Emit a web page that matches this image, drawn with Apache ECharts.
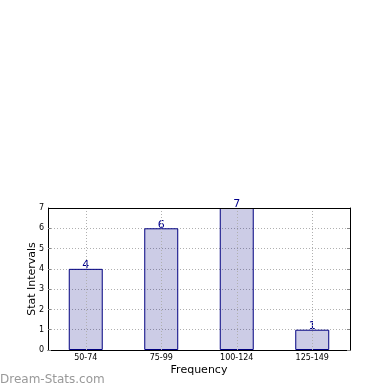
<!DOCTYPE html>
<html><head><meta charset="utf-8">
<script src="https://cdn.jsdelivr.net/npm/echarts@6/dist/echarts.min.js"></script>
<style>html,body{margin:0;padding:0;background:#fff}#c{width:390px;height:390px}</style>
</head><body><div id="c"></div>
<script>
const categories = ['50-74', '75-99', '100-124', '125-149'];
const values = [4, 6, 7, 1];
const yTicks = [0, 1, 2, 3, 4, 5, 6, 7];

const chart = echarts.init(document.getElementById('c'), null, {renderer: 'canvas'});
const gridLine = {show: true, lineStyle: {color: '#b0b0b0', type: [1, 2], width: 1}};
chart.setOption({
  animation: false,
  backgroundColor: '#fff',
  grid: {left: 48, right: 40, top: 208, bottom: 40, containLabel: false},
  graphic: [{
    type: 'text', left: 0, top: 374, z: 100,
    style: {text: 'Dream-Stats.com', font: '12px "DejaVu Sans"', fill: '#999999'}
  }, {
    type: 'line', z: 100, shape: {x1: 48, y1: 208.5, x2: 350, y2: 208.5},
    style: {stroke: '#000', lineWidth: 1}
  }],
  xAxis: {
    type: 'category', data: categories,
    name: 'Frequency', nameLocation: 'middle', nameGap: 15, nameMoveOverlap: false,
    nameTextStyle: {fontFamily: 'DejaVu Sans', fontSize: 11, color: '#000'},
    axisLine: {show: true, lineStyle: {color: '#000', width: 1}},
    axisTick: {show: false},
    axisLabel: {fontFamily: 'DejaVu Sans', fontSize: 8, color: '#000', margin: 4},
    splitLine: {show: false}
  },
  yAxis: [{
    type: 'value', min: 0, max: 7, interval: 1,
    name: 'Stat Intervals', nameLocation: 'middle', nameGap: 10, nameMoveOverlap: false,
    nameTextStyle: {fontFamily: 'DejaVu Sans', fontSize: 11, color: '#000'},
    axisLine: {show: true, lineStyle: {color: '#000', width: 1}},
    axisTick: {show: true, inside: true, length: 3, lineStyle: {color: '#888'}},
    axisLabel: {fontFamily: 'DejaVu Sans', fontSize: 8, color: '#000', margin: 4,
      formatter: v => yTicks.includes(v) ? String(v) : ''},
    splitLine: gridLine
  }, {
    type: 'value', min: 0, max: 7, interval: 1, position: 'right',
    axisLine: {show: true, lineStyle: {color: '#000', width: 1}},
    axisTick: {show: true, inside: true, length: 3, lineStyle: {color: '#888'}},
    axisLabel: {show: false}, splitLine: {show: false}
  }],
  series: [{
    type: 'bar', data: values, barWidth: '45%',
    itemStyle: {color: 'rgba(0,0,128,0.2)', borderColor: '#000080', borderWidth: 1},
    label: {show: true, position: 'top', distance: -2, fontFamily: 'DejaVu Sans', fontSize: 11, color: '#00008b'},
    markLine: {
      silent: true, symbol: 'none', label: {show: false},
      lineStyle: {color: '#b0b0b0', type: [1, 2], width: 1},
      data: categories.map(c => ({xAxis: c}))
    }
  }]
});
</script></body></html>
